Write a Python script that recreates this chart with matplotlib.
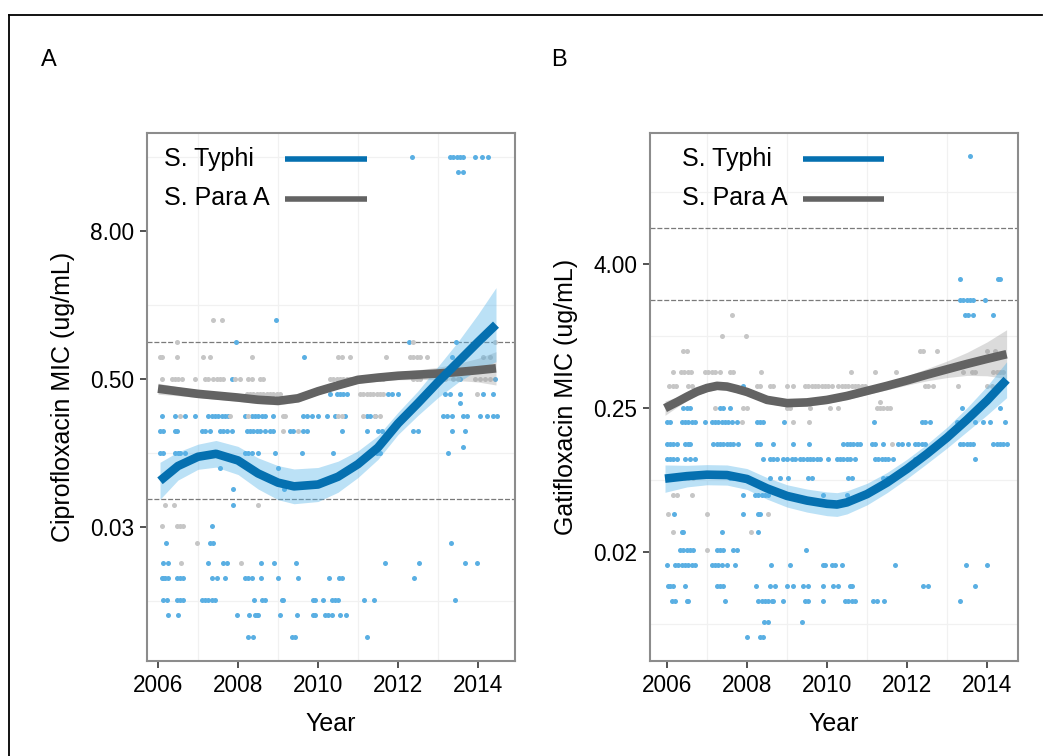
import numpy as np
import matplotlib
matplotlib.use('Agg')
import matplotlib.pyplot as plt
from matplotlib.lines import Line2D

plt.rcParams['font.family'] = ['Liberation Sans', 'DejaVu Sans']

# ---- isolates: MIC level (ug/mL) -> isolation dates (decimal year) ----
cip_typhi = {
    32: [2012.34, 2013.30, 2013.38, 2013.47, 2013.55, 2013.63, 2013.93, 2014.09, 2014.26],
    24: [2013.51, 2013.63],
    1.5: [2008.95],
    1.0: [2007.95, 2012.28, 2013.45],
    0.75: [2009.66, 2013.34],
    0.5: [2007.84, 2013.55, 2014.43],
    0.38: [2010.30, 2010.47, 2010.55, 2010.63, 2010.72, 2011.76, 2011.84, 2012.01,
           2013.17, 2013.30, 2013.55, 2014.13, 2014.38],
    0.32: [2013.55],
    0.25: [2006.09, 2006.43, 2006.68, 2006.93, 2007.26, 2007.34, 2007.43, 2007.51, 2007.59,
           2007.68, 2007.76, 2008.18, 2008.34, 2008.43, 2008.51, 2008.59, 2008.68, 2008.88,
           2009.63, 2009.72, 2009.84, 2010.01, 2010.22, 2010.43, 2010.68, 2011.22, 2011.30,
           2011.43, 2013.13, 2013.22, 2013.34, 2013.63, 2013.72, 2014.05, 2014.22, 2014.38, 2014.47],
    0.19: [2006.05, 2006.13, 2006.43, 2006.47, 2007.09, 2007.18, 2007.30, 2007.55, 2007.63,
           2007.72, 2007.84, 2008.22, 2008.30, 2008.38, 2008.47, 2008.55, 2008.68, 2008.80,
           2008.88, 2009.30, 2009.38, 2009.63, 2009.72, 2010.59, 2011.22, 2011.51, 2011.59,
           2012.38, 2012.51, 2013.34, 2013.68],
    0.14: [2013.63],
    0.125: [2006.05, 2006.13, 2006.43, 2006.51, 2006.55, 2006.68, 2008.18, 2008.26, 2008.34,
            2008.51, 2008.93, 2009.59, 2010.38, 2011.47, 2011.55, 2013.26],
    0.094: [2007.55, 2009.01],
    0.064: [2007.88, 2009.15],
    0.047: [2007.88],
    0.032: [2007.36],
    0.023: [2006.19, 2007.30, 2007.38, 2013.32],
    0.016: [2006.13, 2006.26, 2007.26, 2007.63, 2007.72, 2008.58, 2008.91, 2009.45, 2011.68,
            2012.52, 2013.68, 2013.98],
    0.012: [2006.09, 2006.13, 2006.18, 2006.26, 2006.47, 2006.55, 2006.63, 2007.34, 2007.47,
            2007.68, 2008.18, 2008.26, 2008.34, 2008.58, 2008.99, 2009.51, 2010.28, 2010.53,
            2010.61, 2012.41],
    0.008: [2006.13, 2006.22, 2006.47, 2006.55, 2006.63, 2007.09, 2007.18, 2007.26, 2007.34,
            2007.43, 2008.41, 2008.59, 2008.68, 2009.09, 2009.13, 2009.88, 2009.93, 2010.13,
            2010.34, 2010.43, 2010.51, 2011.15, 2011.41, 2013.43],
    0.006: [2006.24, 2006.51, 2007.97, 2008.28, 2008.43, 2008.47, 2008.51, 2009.05, 2009.48,
            2009.88, 2009.93, 2010.18, 2010.26, 2010.34, 2010.55, 2010.69],
    0.004: [2008.26, 2008.38, 2009.34, 2009.43, 2011.23],
}

cip_para = {
    1.5: [2007.37, 2007.59],
    1.0: [2006.47, 2012.38, 2014.43],
    0.75: [2006.05, 2006.11, 2006.47, 2007.12, 2007.30, 2008.34, 2010.51, 2010.59, 2010.80,
           2011.69, 2012.30, 2012.38, 2012.47, 2012.55, 2012.72, 2014.13, 2014.30],
    0.5: [2006.09, 2006.34, 2006.43, 2006.51, 2006.59, 2006.93, 2007.18, 2007.26, 2007.38,
          2007.47, 2007.55, 2007.63, 2007.93, 2008.05, 2008.26, 2008.34, 2008.55, 2008.63,
          2010.30, 2010.38, 2010.47, 2010.55, 2010.63, 2010.72, 2010.80, 2010.88, 2010.97,
          2011.47, 2011.55, 2011.63, 2012.38, 2012.47, 2012.55, 2013.01, 2013.09, 2013.18,
          2013.38, 2013.51, 2013.93, 2014.05, 2014.18, 2014.30],
    0.38: [2008.22, 2008.30, 2008.38, 2008.47, 2008.55, 2008.63, 2008.72, 2008.80, 2008.88,
           2008.97, 2009.05, 2011.05, 2011.13, 2011.22, 2011.30, 2011.38, 2011.47, 2011.55,
           2011.63, 2013.97],
    0.25: [2006.55, 2007.80, 2008.26, 2009.13, 2009.18, 2010.51, 2010.59, 2011.13, 2011.43, 2011.55],
    0.19: [2009.13, 2009.51],
    0.047: [2006.18, 2006.41, 2008.51],
    0.032: [2006.11, 2006.47, 2006.55, 2006.63],
    0.023: [2006.97],
    0.016: [2006.57, 2008.08],
}

gat_typhi = {
    32: [2013.58],
    3: [2013.33, 2014.28, 2014.33],
    2: [2013.33, 2013.41, 2013.49, 2013.58, 2013.66, 2013.95],
    1.5: [2013.45, 2013.53, 2013.66, 2014.14],
    0.38: [2007.91],
    0.25: [2006.41, 2006.49, 2006.58, 2007.33, 2007.41, 2007.58, 2013.37, 2014.33],
    0.19: [2005.99, 2006.08, 2006.37, 2006.45, 2006.53, 2006.62, 2006.70, 2006.95, 2007.12,
           2007.20, 2007.28, 2007.37, 2007.45, 2007.53, 2007.62, 2007.74, 2008.24, 2008.33,
           2008.41, 2008.93, 2011.18, 2012.37, 2012.45, 2012.58, 2013.24, 2013.70, 2013.91,
           2014.08, 2014.45],
    0.125: [2005.99, 2006.08, 2006.16, 2006.24, 2006.45, 2006.53, 2006.58, 2007.16, 2007.24,
            2007.33, 2007.41, 2007.49, 2007.58, 2007.66, 2007.78, 2008.24, 2008.33, 2008.66,
            2009.16, 2009.56, 2010.41, 2010.49, 2010.58, 2010.66, 2010.74, 2010.83, 2011.12,
            2011.20, 2011.41, 2011.78, 2011.87, 2012.03, 2012.20, 2012.28, 2012.37, 2012.45,
            2013.33, 2013.41, 2013.49, 2013.58, 2013.66, 2014.16, 2014.24, 2014.33, 2014.41, 2014.49],
    0.094: [2005.99, 2006.08, 2006.16, 2006.24, 2006.45, 2006.58, 2006.70, 2008.39, 2008.58,
            2008.66, 2008.74, 2008.91, 2008.99, 2009.12, 2009.20, 2009.33, 2009.41, 2009.49,
            2009.58, 2009.66, 2009.74, 2009.83, 2010.03, 2010.24, 2010.33, 2010.41, 2010.49,
            2010.58, 2010.70, 2011.20, 2011.28, 2011.37, 2011.45, 2011.53, 2011.66, 2012.20, 2013.70],
    0.064: [2007.58, 2007.66, 2007.74, 2007.91, 2008.58, 2008.83, 2009.03, 2009.53, 2009.62,
            2010.53, 2010.62, 2011.41, 2011.49],
    0.047: [2007.91, 2008.20, 2008.28, 2008.37, 2008.45, 2008.53, 2009.91, 2010.49],
    0.032: [2006.17, 2007.91, 2008.28, 2008.33],
    0.023: [2006.37, 2006.41, 2007.37, 2008.27],
    0.016: [2006.33, 2006.41, 2006.49, 2006.58, 2006.66, 2007.24, 2007.33, 2007.41, 2007.66,
            2007.74, 2009.47],
    0.012: [2005.99, 2006.20, 2006.28, 2006.37, 2006.45, 2006.53, 2006.62, 2006.70, 2007.12,
            2007.20, 2007.28, 2007.37, 2007.49, 2007.70, 2008.60, 2009.08, 2009.91, 2009.95,
            2010.12, 2010.20, 2010.37, 2011.70, 2013.47, 2013.99],
    0.008: [2006.02, 2006.08, 2006.16, 2006.45, 2007.24, 2007.33, 2007.41, 2008.22, 2008.58,
            2008.70, 2008.99, 2009.16, 2009.41, 2009.53, 2009.91, 2010.16, 2010.28, 2010.58,
            2010.62, 2012.41, 2012.53, 2013.70],
    0.006: [2006.12, 2006.20, 2006.49, 2006.53, 2007.45, 2008.28, 2008.37, 2008.45, 2008.53,
            2008.62, 2008.66, 2008.91, 2009.45, 2009.53, 2009.91, 2010.45, 2010.53, 2010.62,
            2010.70, 2011.16, 2011.24, 2011.43, 2013.33],
    0.004: [2008.43, 2008.53, 2009.37],
    0.003: [2007.99, 2008.33, 2008.41],
}

gat_para = {
    1.5: [2007.63],
    1.0: [2007.38, 2007.97],
    0.75: [2006.41, 2006.49, 2012.33, 2012.41, 2012.76, 2013.99, 2014.20],
    0.5: [2006.14, 2006.35, 2006.43, 2006.52, 2006.60, 2006.95, 2007.03, 2007.12, 2007.20,
          2007.33, 2007.58, 2007.66, 2008.34, 2010.60, 2011.20, 2011.73, 2013.41, 2013.62,
          2013.70, 2014.16, 2014.24, 2014.33, 2014.41],
    0.38: [2006.06, 2006.14, 2006.22, 2006.53, 2006.62, 2008.24, 2008.33, 2008.58, 2008.66,
           2008.99, 2009.16, 2009.45, 2009.53, 2009.62, 2009.70, 2009.78, 2009.87, 2009.95,
           2010.03, 2010.12, 2010.28, 2010.37, 2010.45, 2010.53, 2010.62, 2010.70, 2010.78,
           2010.87, 2010.95, 2012.45, 2012.53, 2012.66, 2013.28, 2013.99, 2014.12, 2014.24],
    0.28: [2011.33],
    0.25: [2007.20, 2007.91, 2007.99, 2008.99, 2009.08, 2009.58, 2010.07, 2010.28, 2011.24,
           2011.33, 2011.41, 2011.49, 2011.58],
    0.19: [2007.87, 2009.16, 2009.55],
    0.125: [2011.62],
    0.064: [2006.45, 2006.53, 2006.66],
    0.047: [2006.16, 2006.24, 2006.62],
    0.032: [2006.02, 2006.99, 2008.53],
    0.023: [2006.14, 2008.10],
    0.016: [2007.01],
}

# ---- loess fits with 95% band, log2(MIC) ----
cip_typhi_x = [2006.05, 2006.5, 2007.0, 2007.45, 2008.0, 2008.5, 2009.0, 2009.4, 2010.0,
               2010.5, 2011.0, 2011.5, 2012.0, 2012.5, 2013.0, 2013.5, 2014.0, 2014.45]
cip_typhi_fit = [-3.75, -3.35, -3.10, -3.02, -3.20, -3.55, -3.80, -3.90, -3.85,
                 -3.64, -3.30, -2.85, -2.20, -1.65, -1.08, -0.54, 0.00, 0.47]
cip_typhi_lo = [-4.25, -3.73, -3.44, -3.38, -3.58, -3.97, -4.26, -4.37, -4.31,
                -4.06, -3.66, -3.17, -2.50, -1.98, -1.50, -1.09, -0.75, -0.53]
cip_typhi_hi = [-3.25, -2.97, -2.76, -2.66, -2.82, -3.13, -3.34, -3.43, -3.39,
                -3.22, -2.94, -2.53, -1.90, -1.32, -0.66, 0.01, 0.75, 1.47]

cip_para_x = [2006.0, 2006.5, 2007.0, 2007.5, 2008.0, 2008.5, 2009.0, 2009.5, 2010.0,
              2010.5, 2011.0, 2011.5, 2012.0, 2012.5, 2013.0, 2013.5, 2014.0, 2014.45]
cip_para_fit = [-1.26, -1.33, -1.40, -1.45, -1.50, -1.56, -1.59, -1.52, -1.33,
                -1.17, -1.02, -0.96, -0.91, -0.88, -0.85, -0.81, -0.76, -0.71]
cip_para_lo = [-1.41, -1.45, -1.50, -1.55, -1.60, -1.66, -1.70, -1.62, -1.42,
               -1.26, -1.11, -1.06, -1.02, -1.01, -1.02, -1.04, -1.08, -1.16]
cip_para_hi = [-1.11, -1.21, -1.30, -1.35, -1.40, -1.46, -1.48, -1.42, -1.24,
               -1.08, -0.93, -0.86, -0.80, -0.75, -0.68, -0.58, -0.44, -0.26]

gat_typhi_x = [2005.95, 2006.5, 2007.0, 2007.5, 2008.0, 2008.5, 2009.0, 2009.5, 2010.0, 2010.25,
               2010.5, 2011.0, 2011.5, 2012.0, 2012.5, 2013.0, 2013.5, 2014.0, 2014.49]
gat_typhi_fit = [-3.97, -3.90, -3.86, -3.87, -3.98, -4.24, -4.45, -4.58, -4.67, -4.69,
                 -4.63, -4.40, -4.08, -3.70, -3.28, -2.83, -2.33, -1.80, -1.22]
gat_typhi_lo = [-4.35, -4.20, -4.14, -4.15, -4.27, -4.54, -4.76, -4.90, -5.00, -5.02,
                -4.95, -4.70, -4.36, -3.97, -3.55, -3.12, -2.66, -2.20, -1.72]
gat_typhi_hi = [-3.59, -3.60, -3.58, -3.59, -3.69, -3.94, -4.14, -4.26, -4.34, -4.36,
                -4.31, -4.10, -3.80, -3.43, -3.01, -2.54, -2.00, -1.40, -0.72]

gat_para_x = [2005.95, 2006.25, 2006.5, 2006.75, 2007.0, 2007.25, 2007.5, 2007.75, 2008.0, 2008.5,
              2009.0, 2009.5, 2010.0, 2010.5, 2011.0, 2011.5, 2012.0, 2012.5, 2013.0, 2013.5,
              2014.0, 2014.49]
gat_para_fit = [-2.01, -1.84, -1.69, -1.55, -1.45, -1.39, -1.41, -1.48, -1.56, -1.78,
                -1.87, -1.85, -1.78, -1.67, -1.53, -1.39, -1.24, -1.08, -0.93, -0.78,
                -0.64, -0.51]
gat_para_lo = [-2.21, -1.98, -1.80, -1.65, -1.55, -1.49, -1.51, -1.58, -1.66, -1.88,
               -1.97, -1.95, -1.88, -1.77, -1.63, -1.50, -1.37, -1.25, -1.16, -1.10,
               -1.11, -1.19]
gat_para_hi = [-1.81, -1.70, -1.58, -1.45, -1.35, -1.29, -1.31, -1.38, -1.46, -1.68,
               -1.77, -1.75, -1.68, -1.57, -1.43, -1.28, -1.11, -0.91, -0.70, -0.46,
               -0.17, 0.17]

# breakpoints (dashed lines)
cip_breaks = [1.0, 0.053]
gat_breaks = [8.0, 2.0]

year_ticks = [2006, 2008, 2010, 2012, 2014]
cip_ticks = [8.0, 0.5, 0.03125]
cip_ticklabels = ['8.00', '0.50', '0.03']
gat_ticks = [4.0, 0.25, 0.015625]
gat_ticklabels = ['4.00', '0.25', '0.02']
series_names = ['S. Typhi', 'S. Para A']

BLUE_PT = '#5aafe3'
BLUE_LN = '#0570b0'
BLUE_BAND = '#56b4e9'
GREY_PT = '#c6c6c6'
GREY_LN = '#636363'
GREY_BAND = '#9a9a9a'


def flat(pts):
    xs, ys = [], []
    for mic, yrs in pts.items():
        xs += yrs
        ys += [mic] * len(yrs)
    return xs, ys


def panel(ax, typhi, para, fits, breaks, ticks, ticklabels, ylab, xlim, ylim_log2, minor_y, leg_x, leg_line):
    for pts, col in ((typhi, BLUE_PT), (para, GREY_PT)):
        xs, ys = flat(pts)
        ax.scatter(xs, ys, s=13, color=col, linewidths=0, zorder=2)
    for (x, fit, lo, hi), lc, bc, ba in zip(fits, (GREY_LN, BLUE_LN), (GREY_BAND, BLUE_BAND), (0.35, 0.4)):
        ax.fill_between(x, np.exp2(lo), np.exp2(hi), color=bc, alpha=ba, lw=0, zorder=3)
        ax.plot(x, np.exp2(fit), color=lc, lw=6.2, solid_capstyle='butt',
                solid_joinstyle='round', zorder=4)
    for b in breaks:
        ax.axhline(b, color='#7a7a7a', lw=0.9, ls=(0, (4, 1.5)), zorder=1.5)

    ax.set_yscale('log', base=2)
    ax.set_xlim(*xlim)
    ax.set_ylim(2 ** ylim_log2[0], 2 ** ylim_log2[1])
    ax.set_xticks(year_ticks)
    ax.set_xticklabels([str(y) for y in year_ticks])
    ax.set_yticks(ticks)
    ax.set_yticklabels(ticklabels)
    ax.set_xticks([2007, 2009, 2011, 2013], minor=True)
    ax.set_yticks(minor_y, minor=True)
    ax.yaxis.set_minor_formatter(matplotlib.ticker.NullFormatter())
    ax.grid(False)
    ax.grid(True, which='minor', color='#f1f1f1', lw=0.9, zorder=0)
    ax.set_axisbelow(True)
    ax.tick_params(which='major', length=5, width=1.2, color='#333333', labelsize=16.3,
                   pad=4.3, labelcolor='black')
    ax.tick_params(which='minor', length=0)
    for s in ax.spines.values():
        s.set_color('#8c8c8c')
        s.set_linewidth(1.5)
    ax.set_xlabel('Year', fontsize=18, labelpad=11)
    ax.set_ylabel(ylab, fontsize=18, labelpad=11)

    for name, col, ty, ly in zip(series_names, (BLUE_LN, GREY_LN), (0.938, 0.8636), (0.950, 0.875)):
        ax.text(leg_x, ty, name, transform=ax.transAxes, fontsize=18, va='baseline', ha='left')
        ax.add_line(Line2D(leg_line, [ly, ly], transform=ax.transAxes, color=col, lw=4,
                           solid_capstyle='butt', clip_on=False))


fig = plt.figure(figsize=(10.45, 7.56), dpi=100)
W, H = 1045, 756
axA = fig.add_axes([147 / W, 1 - 661 / H, 368 / W, 528 / H])
axB = fig.add_axes([650 / W, 1 - 661 / H, 368 / W, 528 / H])

panel(axA, cip_typhi, cip_para,
      [(cip_para_x, cip_para_fit, cip_para_lo, cip_para_hi),
       (cip_typhi_x, cip_typhi_fit, cip_typhi_lo, cip_typhi_hi)],
      cip_breaks, cip_ticks, cip_ticklabels, 'Ciprofloxacin MIC (ug/mL)',
      (2005.725, 2014.925), (-8.62, 5.65), [32, 2, 0.125, 0.0078125],
      0.046, [0.375, 0.598])
panel(axB, gat_typhi, gat_para,
      [(gat_para_x, gat_para_fit, gat_para_lo, gat_para_hi),
       (gat_typhi_x, gat_typhi_fit, gat_typhi_lo, gat_typhi_hi)],
      gat_breaks, gat_ticks, gat_ticklabels, 'Gatifloxacin MIC (ug/mL)',
      (2005.575, 2014.775), (-9.04, 5.64), [16, 1, 0.0625, 0.00390625],
      0.088, [0.415, 0.636])

fig.text(41 / W, 1 - 66 / H, 'A', fontsize=17, va='baseline')
fig.text(551 / W, 1 - 66 / H, 'B', fontsize=17, va='baseline')

# outer frame (top and left edges)
fig.add_artist(Line2D([9 / W, 1042 / W], [1 - 15 / H, 1 - 15 / H], color='black', lw=1.3))
fig.add_artist(Line2D([9 / W, 9 / W], [1 - 15 / H, 0], color='black', lw=1.3))

fig.savefig('out.png', dpi=100)
